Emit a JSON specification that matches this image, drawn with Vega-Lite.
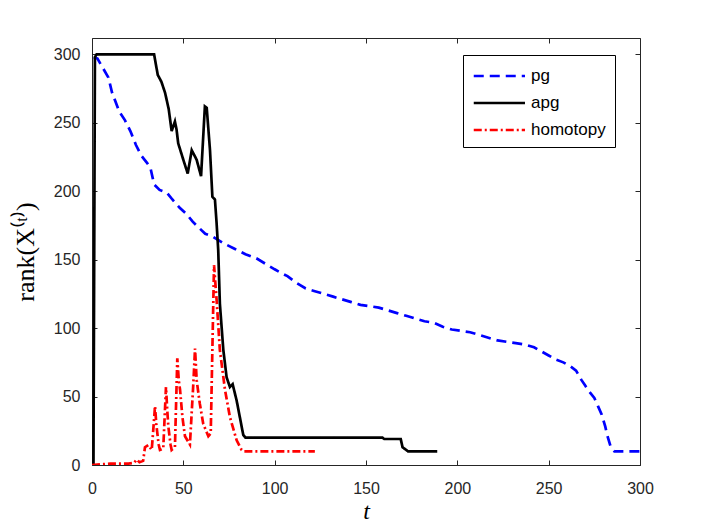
{
  "$schema": "https://vega.github.io/schema/vega-lite/v6.json",
  "description": "rank of X^(t) against iteration t for pg, apg and homotopy",
  "autosize": {"type": "none"},
  "padding": {"left": 92, "top": 38, "right": 66, "bottom": 65},
  "width": 548,
  "height": 427,
  "data": {
    "values": [
      {"method": "pg", "t": 1, "rank": 298},
      {"method": "pg", "t": 3, "rank": 297},
      {"method": "pg", "t": 6, "rank": 290},
      {"method": "pg", "t": 9, "rank": 283},
      {"method": "pg", "t": 11, "rank": 272},
      {"method": "pg", "t": 13, "rank": 265},
      {"method": "pg", "t": 15, "rank": 258},
      {"method": "pg", "t": 18, "rank": 252},
      {"method": "pg", "t": 21, "rank": 244},
      {"method": "pg", "t": 24, "rank": 234},
      {"method": "pg", "t": 27, "rank": 226},
      {"method": "pg", "t": 30, "rank": 221},
      {"method": "pg", "t": 32, "rank": 217},
      {"method": "pg", "t": 34, "rank": 205},
      {"method": "pg", "t": 37, "rank": 201},
      {"method": "pg", "t": 41, "rank": 199},
      {"method": "pg", "t": 44, "rank": 194},
      {"method": "pg", "t": 48, "rank": 188},
      {"method": "pg", "t": 52, "rank": 183},
      {"method": "pg", "t": 55, "rank": 178},
      {"method": "pg", "t": 58, "rank": 174},
      {"method": "pg", "t": 62, "rank": 169},
      {"method": "pg", "t": 66, "rank": 167},
      {"method": "pg", "t": 72, "rank": 162},
      {"method": "pg", "t": 78, "rank": 158},
      {"method": "pg", "t": 84, "rank": 154},
      {"method": "pg", "t": 90, "rank": 151},
      {"method": "pg", "t": 95, "rank": 147},
      {"method": "pg", "t": 100, "rank": 143},
      {"method": "pg", "t": 104, "rank": 140},
      {"method": "pg", "t": 107, "rank": 138},
      {"method": "pg", "t": 112, "rank": 133},
      {"method": "pg", "t": 117, "rank": 129},
      {"method": "pg", "t": 122, "rank": 127},
      {"method": "pg", "t": 127, "rank": 125},
      {"method": "pg", "t": 132, "rank": 123},
      {"method": "pg", "t": 137, "rank": 121},
      {"method": "pg", "t": 142, "rank": 119},
      {"method": "pg", "t": 147, "rank": 117},
      {"method": "pg", "t": 152, "rank": 116},
      {"method": "pg", "t": 157, "rank": 115},
      {"method": "pg", "t": 162, "rank": 113},
      {"method": "pg", "t": 167, "rank": 111},
      {"method": "pg", "t": 172, "rank": 109},
      {"method": "pg", "t": 177, "rank": 107},
      {"method": "pg", "t": 182, "rank": 105},
      {"method": "pg", "t": 187, "rank": 104},
      {"method": "pg", "t": 192, "rank": 101},
      {"method": "pg", "t": 197, "rank": 99},
      {"method": "pg", "t": 202, "rank": 98},
      {"method": "pg", "t": 207, "rank": 97},
      {"method": "pg", "t": 212, "rank": 95},
      {"method": "pg", "t": 217, "rank": 93},
      {"method": "pg", "t": 222, "rank": 91},
      {"method": "pg", "t": 227, "rank": 90},
      {"method": "pg", "t": 232, "rank": 89},
      {"method": "pg", "t": 237, "rank": 88},
      {"method": "pg", "t": 242, "rank": 86},
      {"method": "pg", "t": 246, "rank": 83},
      {"method": "pg", "t": 250, "rank": 80},
      {"method": "pg", "t": 254, "rank": 77},
      {"method": "pg", "t": 258, "rank": 75},
      {"method": "pg", "t": 262, "rank": 72},
      {"method": "pg", "t": 265, "rank": 69},
      {"method": "pg", "t": 268, "rank": 62},
      {"method": "pg", "t": 270, "rank": 58},
      {"method": "pg", "t": 272, "rank": 54},
      {"method": "pg", "t": 275, "rank": 49},
      {"method": "pg", "t": 277, "rank": 43},
      {"method": "pg", "t": 279, "rank": 37},
      {"method": "pg", "t": 281, "rank": 28},
      {"method": "pg", "t": 282, "rank": 22},
      {"method": "pg", "t": 284, "rank": 13},
      {"method": "pg", "t": 286, "rank": 10},
      {"method": "pg", "t": 300, "rank": 10},
      {"method": "apg", "t": 0.8, "rank": 0},
      {"method": "apg", "t": 1.6, "rank": 298},
      {"method": "apg", "t": 2.5, "rank": 300},
      {"method": "apg", "t": 34, "rank": 300},
      {"method": "apg", "t": 36, "rank": 285},
      {"method": "apg", "t": 38, "rank": 280},
      {"method": "apg", "t": 40, "rank": 272},
      {"method": "apg", "t": 42, "rank": 260},
      {"method": "apg", "t": 43.6, "rank": 244},
      {"method": "apg", "t": 45.4, "rank": 251},
      {"method": "apg", "t": 46.3, "rank": 245},
      {"method": "apg", "t": 47.2, "rank": 235},
      {"method": "apg", "t": 50, "rank": 223},
      {"method": "apg", "t": 52.4, "rank": 213},
      {"method": "apg", "t": 54.6, "rank": 230},
      {"method": "apg", "t": 57.3, "rank": 223},
      {"method": "apg", "t": 59.7, "rank": 211},
      {"method": "apg", "t": 61.8, "rank": 262},
      {"method": "apg", "t": 62.8, "rank": 261},
      {"method": "apg", "t": 64.6, "rank": 230},
      {"method": "apg", "t": 65.9, "rank": 196},
      {"method": "apg", "t": 67.3, "rank": 194},
      {"method": "apg", "t": 68.2, "rank": 177},
      {"method": "apg", "t": 69.1, "rank": 157},
      {"method": "apg", "t": 70, "rank": 118},
      {"method": "apg", "t": 71.9, "rank": 84},
      {"method": "apg", "t": 73.7, "rank": 64},
      {"method": "apg", "t": 75.5, "rank": 57},
      {"method": "apg", "t": 77, "rank": 59},
      {"method": "apg", "t": 79.2, "rank": 47},
      {"method": "apg", "t": 82.8, "rank": 22},
      {"method": "apg", "t": 84, "rank": 20},
      {"method": "apg", "t": 159, "rank": 20},
      {"method": "apg", "t": 160, "rank": 19},
      {"method": "apg", "t": 169, "rank": 19},
      {"method": "apg", "t": 170, "rank": 13},
      {"method": "apg", "t": 171, "rank": 12},
      {"method": "apg", "t": 173, "rank": 10},
      {"method": "apg", "t": 189, "rank": 10},
      {"method": "homotopy", "t": 0, "rank": 0},
      {"method": "homotopy", "t": 5, "rank": 0.5},
      {"method": "homotopy", "t": 10, "rank": 1},
      {"method": "homotopy", "t": 15, "rank": 1},
      {"method": "homotopy", "t": 20, "rank": 1},
      {"method": "homotopy", "t": 23, "rank": 1.5},
      {"method": "homotopy", "t": 24.5, "rank": 4},
      {"method": "homotopy", "t": 26, "rank": 2},
      {"method": "homotopy", "t": 28, "rank": 3},
      {"method": "homotopy", "t": 29, "rank": 13},
      {"method": "homotopy", "t": 30.8, "rank": 14.6},
      {"method": "homotopy", "t": 32.7, "rank": 11},
      {"method": "homotopy", "t": 33.5, "rank": 25},
      {"method": "homotopy", "t": 34.5, "rank": 43},
      {"method": "homotopy", "t": 35.2, "rank": 30},
      {"method": "homotopy", "t": 35.7, "rank": 24},
      {"method": "homotopy", "t": 36.5, "rank": 15},
      {"method": "homotopy", "t": 37.2, "rank": 11},
      {"method": "homotopy", "t": 39, "rank": 12},
      {"method": "homotopy", "t": 40.5, "rank": 57},
      {"method": "homotopy", "t": 41.2, "rank": 40},
      {"method": "homotopy", "t": 41.8, "rank": 28},
      {"method": "homotopy", "t": 43, "rank": 15},
      {"method": "homotopy", "t": 43.6, "rank": 11},
      {"method": "homotopy", "t": 45.4, "rank": 13},
      {"method": "homotopy", "t": 46.7, "rank": 78},
      {"method": "homotopy", "t": 47.5, "rank": 62},
      {"method": "homotopy", "t": 48.2, "rank": 55},
      {"method": "homotopy", "t": 49.5, "rank": 35},
      {"method": "homotopy", "t": 50.9, "rank": 21},
      {"method": "homotopy", "t": 53.6, "rank": 15},
      {"method": "homotopy", "t": 55.5, "rank": 60},
      {"method": "homotopy", "t": 56.4, "rank": 85},
      {"method": "homotopy", "t": 57, "rank": 70},
      {"method": "homotopy", "t": 57.3, "rank": 62},
      {"method": "homotopy", "t": 59, "rank": 45},
      {"method": "homotopy", "t": 60.9, "rank": 30},
      {"method": "homotopy", "t": 63.7, "rank": 21},
      {"method": "homotopy", "t": 65, "rank": 23},
      {"method": "homotopy", "t": 66.8, "rank": 146},
      {"method": "homotopy", "t": 68.2, "rank": 121},
      {"method": "homotopy", "t": 70, "rank": 84},
      {"method": "homotopy", "t": 72.8, "rank": 55},
      {"method": "homotopy", "t": 75.5, "rank": 35},
      {"method": "homotopy", "t": 79.2, "rank": 18},
      {"method": "homotopy", "t": 81.9, "rank": 11},
      {"method": "homotopy", "t": 83, "rank": 10},
      {"method": "homotopy", "t": 122, "rank": 10}
    ]
  },
  "layer": [
    {
      "mark": {"type": "line", "strokeWidth": 2.7, "clip": true},
      "encoding": {
        "x": {
          "field": "t", "type": "quantitative",
          "scale": {"domain": [0, 300], "nice": false},
          "axis": {"values": [0, 50, 100, 150, 200, 250, 300], "title": "t",
                   "titleFont": "Liberation Serif", "titleFontStyle": "italic",
                   "titleFontSize": 24, "titleFontWeight": "normal", "titlePadding": 3}
        },
        "y": {
          "field": "rank", "type": "quantitative",
          "scale": {"domain": [0, 312], "nice": false},
          "axis": {"values": [0, 50, 100, 150, 200, 250, 300], "title": "rank(X⁽ᵗ⁾)",
                   "titleFont": "Liberation Serif", "titleFontSize": 26,
                   "titleFontWeight": "normal", "titlePadding": 15}
        },
        "color": {
          "field": "method", "type": "nominal",
          "scale": {"domain": ["pg", "apg", "homotopy"], "range": ["#0000ff", "#000000", "#ff0000"]},
          "legend": {"title": null}
        },
        "strokeDash": {
          "field": "method", "type": "nominal",
          "scale": {"domain": ["pg", "apg", "homotopy"], "range": [[10, 6], [1, 0], [8, 3, 2, 3]]},
          "legend": {"title": null}
        }
      }
    },
    {
      "mark": {"type": "point", "opacity": 0},
      "encoding": {
        "x": {"field": "t", "type": "quantitative",
              "axis": {"orient": "top", "values": [0, 50, 100, 150, 200, 250, 300], "labels": false, "title": null}},
        "y": {"field": "rank", "type": "quantitative",
              "axis": {"orient": "right", "values": [0, 50, 100, 150, 200, 250, 300], "labels": false, "title": null}}
      }
    }
  ],
  "resolve": {"axis": {"x": "independent", "y": "independent"}},
  "config": {
    "view": {"stroke": "#262626", "strokeWidth": 1},
    "axis": {
      "domain": false,
      "grid": false,
      "tickSize": -5,
      "tickColor": "#262626",
      "tickWidth": 1,
      "labelFont": "Liberation Sans",
      "labelFontSize": 16,
      "labelColor": "#262626",
      "labelFlush": false,
      "labelOverlap": false,
      "titleColor": "#000000"
    },
    "axisX": {"labelPadding": 20},
    "axisY": {"labelPadding": 17},
    "legend": {
      "orient": "none",
      "legendX": 371,
      "legendY": 17,
      "padding": 9,
      "rowPadding": 7,
      "strokeColor": "#000000",
      "fillColor": "#ffffff",
      "symbolType": "M-1,0H4",
      "symbolSize": 420,
      "symbolStrokeWidth": 2.7,
      "labelFont": "Liberation Sans",
      "labelFontSize": 17,
      "labelColor": "#000000",
      "labelOffset": 35
    }
  }
}
